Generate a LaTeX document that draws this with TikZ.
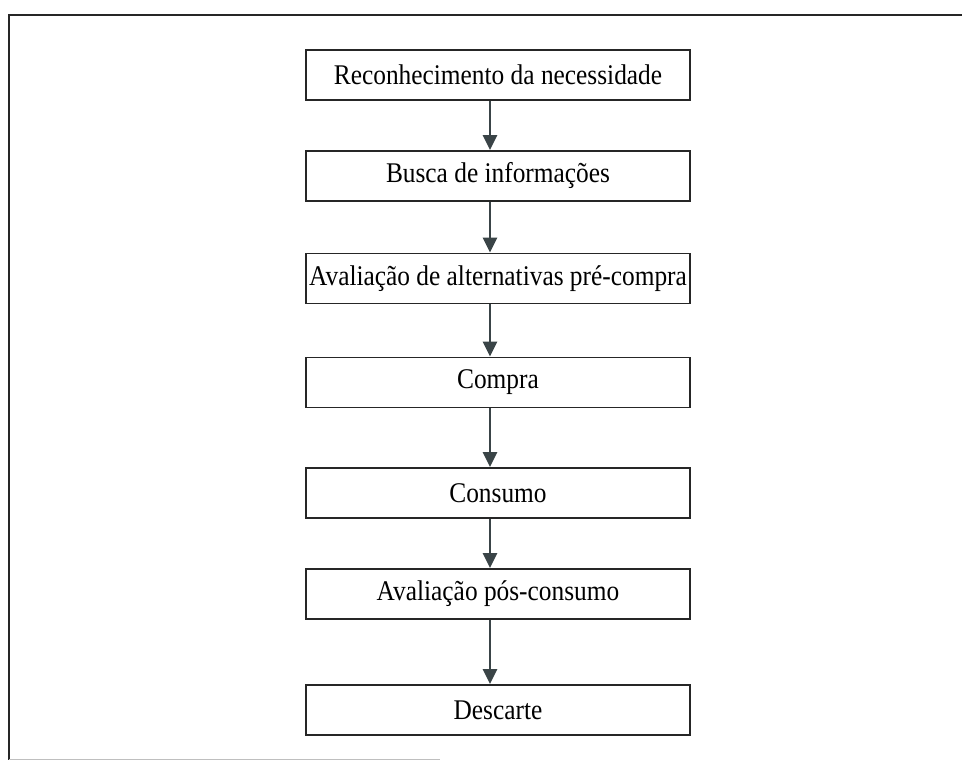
\documentclass[tikz,border=0pt]{standalone}
\usepackage{fontspec}
\setmainfont{Liberation Serif}[FakeStretch=0.89]
\usetikzlibrary{arrows.meta}
\definecolor{arrowc}{HTML}{3A4447}
\begin{document}
\begin{tikzpicture}[x=1pt,y=-1pt,
  stepbox/.style={draw=black!85,line width=1.8pt,minimum width=384pt,minimum height=50pt,inner sep=0pt,
    font=\fontsize{28.5}{32}\selectfont},
  flow/.style={draw=arrowc,line width=2.4pt,-{Triangle[length=15pt,width=14pt,fill=arrowc]}}]
\useasboundingbox (0,0) rectangle (962,760);
\draw[line width=1.6pt,black!85] (9,760) -- (9,15) -- (962,15);
\draw[line width=1pt,black!25] (9,759) -- (440,759);
\node[stepbox] (a) at (498,75) {Reconhecimento da necessidade};
\node[stepbox] (b) at (498,176) {Busca de informações};
\node[stepbox] (c) at (498,278.5) {Avaliação de alternativas pré-compra};
\node[stepbox] (d) at (498,382.5) {Compra};
\node[stepbox] (e) at (498,493) {Consumo};
\node[stepbox] (f) at (498,594) {Avaliação pós-consumo};
\node[stepbox] (g) at (498,710) {Descarte};
\foreach \u/\v in {a/b,b/c,c/d,d/e,e/f,f/g}
  \draw[flow] ([xshift=-8pt]\u.south) -- ([xshift=-8pt]\v.north);
\end{tikzpicture}
\end{document}
